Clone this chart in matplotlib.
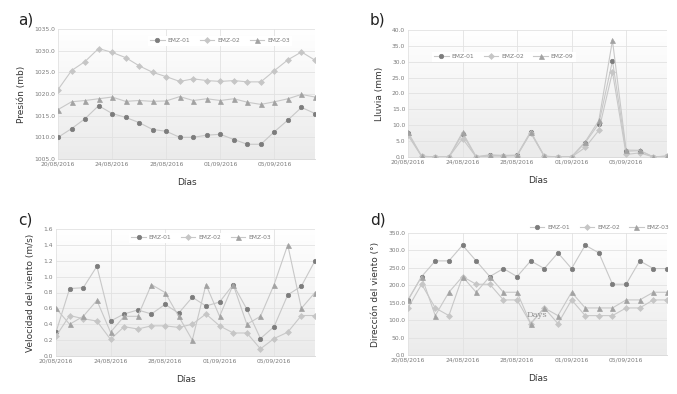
import numpy as np
import pandas as pd
import matplotlib
matplotlib.use("Agg")
import matplotlib.pyplot as plt
import matplotlib.dates as mdates
from matplotlib.colors import LinearSegmentedColormap

# Daily data 20/08/2016 - 08/09/2016
dias = pd.date_range("2016-08-20", "2016-09-08", freq="D")

presion_01 = [1010.0, 1012.0, 1014.3, 1017.3, 1015.5, 1014.6, 1013.4, 1011.8, 1011.4, 1010.0,
              1010.0, 1010.5, 1010.7, 1009.5, 1008.4, 1008.4, 1011.3, 1014.0, 1016.9, 1015.5]
presion_02 = [1021.0, 1025.4, 1027.5, 1030.5, 1029.6, 1028.4, 1026.5, 1025.0, 1024.0, 1022.9,
              1023.5, 1023.1, 1022.9, 1023.1, 1022.8, 1022.8, 1025.4, 1027.9, 1029.7, 1027.8]
presion_03 = [1016.4, 1018.2, 1018.5, 1018.9, 1019.3, 1018.3, 1018.5, 1018.3, 1018.4, 1019.4,
              1018.5, 1018.9, 1018.5, 1018.9, 1018.1, 1017.6, 1018.2, 1018.9, 1019.9, 1019.3]

lluvia_01 = [7.5, 0.2, 0.0, 0.0, 7.2, 0.0, 0.5, 0.4, 0.5, 7.8,
             0.2, 0.0, 0.0, 4.5, 10.5, 30.3, 1.8, 2.0, 0.0, 0.3]
lluvia_02 = [6.8, 0.2, 0.0, 0.0, 5.8, 0.0, 0.3, 0.3, 0.4, 7.6,
             0.2, 0.0, 0.0, 3.0, 8.4, 26.8, 0.8, 1.3, 0.0, 0.2]
lluvia_03 = [7.8, 0.3, 0.0, 0.0, 7.8, 0.1, 0.7, 0.5, 0.6, 8.0,
             0.3, 0.0, 0.1, 4.8, 11.5, 36.7, 2.2, 2.1, 0.0, 0.3]

vel_01 = [0.30, 0.85, 0.86, 1.13, 0.44, 0.53, 0.58, 0.53, 0.65, 0.54,
          0.74, 0.63, 0.68, 0.90, 0.59, 0.22, 0.37, 0.77, 0.88, 1.20]
vel_02 = [0.25, 0.51, 0.47, 0.44, 0.21, 0.37, 0.34, 0.38, 0.38, 0.36,
          0.40, 0.53, 0.38, 0.29, 0.29, 0.09, 0.22, 0.30, 0.51, 0.51]
vel_03 = [0.6, 0.4, 0.5, 0.7, 0.3, 0.5, 0.5, 0.9, 0.8, 0.5,
          0.2, 0.9, 0.5, 0.9, 0.4, 0.5, 0.9, 1.4, 0.6, 0.8]

dir_01 = [158, 225, 270, 270, 315, 270, 225, 248, 225, 270,
          248, 293, 248, 315, 293, 203, 203, 270, 248, 248]
dir_02 = [135, 203, 135, 113, 225, 203, 203, 158, 158, 90,
          135, 90, 158, 113, 113, 113, 135, 135, 158, 158]
dir_03 = [158, 225, 113, 180, 225, 180, 225, 180, 180, 90,
          135, 113, 180, 135, 135, 135, 158, 158, 180, 180]

paneles = [
    ("a)", "Presión (mb)", [presion_01, presion_02, presion_03], (1005, 1035), 5),
    ("b)", "Lluvia (mm)", [lluvia_01, lluvia_02, lluvia_03], (0, 40), 5),
    ("c)", "Velocidad del viento (m/s)", [vel_01, vel_02, vel_03], (0, 1.6), 0.2),
    ("d)", "Dirección del viento (°)", [dir_01, dir_02, dir_03], (0, 350), 50),
]
leyendas = [["EMZ-01", "EMZ-02", "EMZ-03"], ["EMZ-01", "EMZ-02", "EMZ-09"],
            ["EMZ-01", "EMZ-02", "EMZ-03"], ["EMZ-01", "EMZ-02", "EMZ-03"]]

# axes rectangles in pixels (left, top, right, bottom)
W, H = 677, 394
rects = [(58, 29, 315, 159), (408, 30, 667, 157), (56, 229, 315, 356), (408, 233, 667, 355)]
leg_pos = [(0.63, 0.91), (0.37, 0.79), (0.56, 0.93), (0.74, 1.045)]
label_pos = [(18, 20), (370, 20), (18, 220), (370, 220)]

marcadores = ["o", "D", "^"]
m_colors = ["#7c7c7c", "#c6c6c6", "#a2a2a2"]
m_sizes = [3.2, 3.0, 3.6]
line_color = "#c8c8c8"

fondo = LinearSegmentedColormap.from_list("fondo", ["#ffffff", "#ebebeb"])

fig = plt.figure(figsize=(W / 100, H / 100), dpi=100)
grad = np.linspace(0, 1, 256).reshape(-1, 1)

for i, (letra, ylab, series, ylim, step) in enumerate(paneles):
    l, t, r, b = rects[i]
    ax = fig.add_axes([l / W, 1 - b / H, (r - l) / W, (b - t) / H])
    ax.imshow(grad, extent=[0, 1, 0, 1], transform=ax.transAxes, cmap=fondo,
              origin="upper", aspect="auto", zorder=0)
    for k, s in enumerate(series):
        ax.plot(dias, s, color=line_color, lw=0.8, marker=marcadores[k],
                markersize=m_sizes[k], markerfacecolor=m_colors[k],
                markeredgecolor=m_colors[k], markeredgewidth=0.5,
                label=leyendas[i][k], zorder=3)
    ax.set_xlim(dias[0], dias[-1])
    ax.set_ylim(*ylim)
    ax.set_yticks(np.arange(ylim[0], ylim[1] + step / 2, step))
    ax.yaxis.set_major_formatter(matplotlib.ticker.FormatStrFormatter("%.1f"))
    ax.set_xticks(dias[::4])
    ax.xaxis.set_major_formatter(mdates.DateFormatter("%d/%m/%Y"))
    ax.tick_params(labelsize=4.3, colors="#7a7a7a", length=0, pad=2)
    ax.grid(True, color="#e2e2e2", lw=0.6, zorder=1)
    for sp in ["top", "right", "left"]:
        ax.spines[sp].set_visible(False)
    ax.spines["bottom"].set_color("#d4d4d4")
    ax.spines["bottom"].set_linewidth(0.6)
    ax.set_ylabel(ylab, fontsize=6.5, color="#333333", labelpad=6)
    ax.set_xlabel("Días", fontsize=6.5, color="#333333", labelpad=8)
    leg = ax.legend(loc="center", bbox_to_anchor=leg_pos[i], ncol=3, fontsize=4.3,
                    frameon=True, framealpha=1, edgecolor="none", facecolor="white",
                    handlelength=2.4, handletextpad=0.5, columnspacing=1.6,
                    borderpad=0.4, fancybox=False)
    for txt in leg.get_texts():
        txt.set_color("#7a7a7a")
    fig.text(label_pos[i][0] / W, 1 - label_pos[i][1] / H, letra, fontsize=11,
             color="#222222", va="center", ha="left")
    if letra == "d)":
        ax.text(dias[8] + pd.Timedelta(hours=16), 116, "Days", fontsize=6,
                family="DejaVu Serif", color="#909090", va="center", zorder=4)

fig.savefig("out.png", dpi=100, facecolor="white")
